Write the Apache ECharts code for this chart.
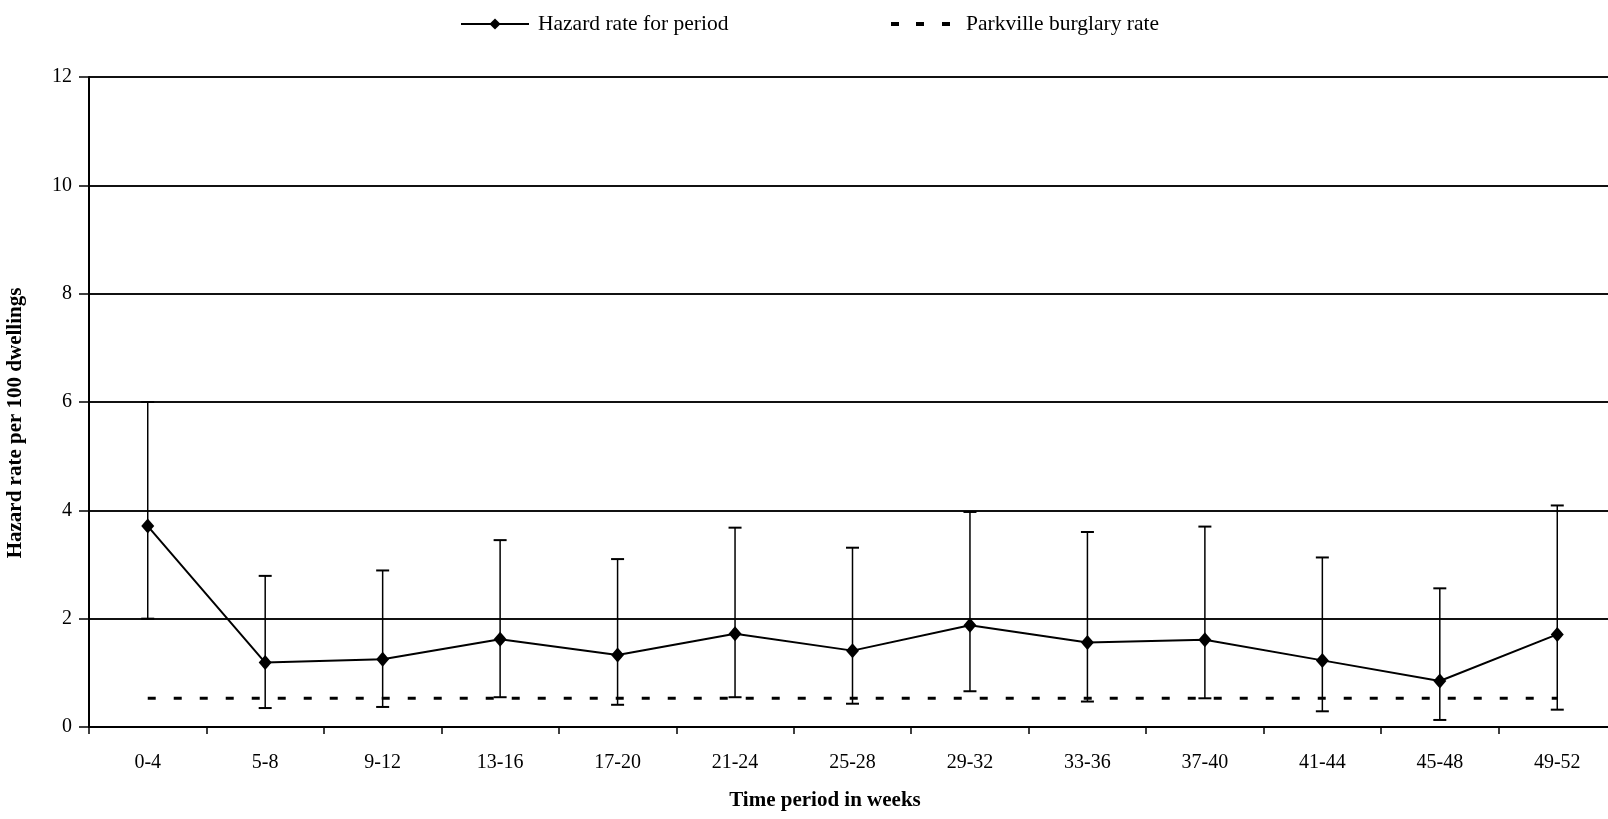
<!DOCTYPE html>
<html>
<head>
<meta charset="utf-8">
<script src="https://cdn.jsdelivr.net/npm/echarts@6/dist/echarts.min.js"></script>
<style>
html,body{margin:0;padding:0;background:#fff;}
#chart{width:1608px;height:819px;}
</style>
</head>
<body>
<div id="chart"></div>
<script>
const categories = ['0-4','5-8','9-12','13-16','17-20','21-24','25-28','29-32','33-36','37-40','41-44','45-48','49-52'];
const hazard    = [3.71, 1.19, 1.25, 1.62, 1.33, 1.72, 1.41, 1.88, 1.56, 1.61, 1.23, 0.85, 1.71];
const upperCI   = [6.00, 2.79, 2.89, 3.45, 3.10, 3.68, 3.31, 3.97, 3.60, 3.70, 3.13, 2.56, 4.09];
const lowerCI   = [2.00, 0.35, 0.37, 0.55, 0.41, 0.55, 0.43, 0.66, 0.47, 0.53, 0.29, 0.13, 0.32];
const parkville = [0.53, 0.53, 0.53, 0.53, 0.53, 0.53, 0.53, 0.53, 0.53, 0.53, 0.53, 0.53, 0.53];
const yMin = 0, yMax = 12, yStep = 2;

const FONT = '"Liberation Serif", "Times New Roman", serif';
const chart = echarts.init(document.getElementById('chart'));

const errData = categories.map((c, i) => [i, upperCI[i], lowerCI[i]]);

chart.setOption({
  animation: false,
  backgroundColor: '#fff',
  textStyle: { fontFamily: FONT, color: '#000' },
  legend: [
    {
      data: ['Hazard rate for period'],
      left: 460, top: 13, padding: 0,
      itemWidth: 68, itemHeight: 14,
      textStyle: { fontFamily: FONT, fontSize: 21.5, color: '#000', padding: [0, 0, 0, 4] }
    },
    {
      data: [{ name: 'Parkville burglary rate', icon: 'path://M0,0h8v4h-8z M25,0h8v4h-8z M51,0h8v4h-8z' }],
      left: 891, top: 13, padding: 0,
      itemWidth: 59, itemHeight: 4,
      textStyle: { fontFamily: FONT, fontSize: 21.5, color: '#000', padding: [0, 0, 0, 11] }
    }
  ],
  grid: { left: 89, top: 77, width: 1527, height: 650, containLabel: false, outerBoundsMode: 'none' },
  xAxis: {
    type: 'category',
    data: categories,
    boundaryGap: true,
    name: 'Time period in weeks',
    nameLocation: 'middle',
    nameGap: 63,
    nameTextStyle: { fontFamily: FONT, fontSize: 21, fontWeight: 'bold', color: '#000', padding: [0, 55, 0, 0] },
    axisLine: { show: true, lineStyle: { color: '#000', width: 2 } },
    axisTick: { show: true, length: 7, alignWithLabel: false, lineStyle: { color: '#000', width: 1.5 } },
    axisLabel: { fontFamily: FONT, fontSize: 20, color: '#000', margin: 26, interval: 0 },
    splitLine: { show: false }
  },
  yAxis: {
    type: 'value',
    min: yMin, max: yMax, interval: yStep,
    name: 'Hazard rate per 100 dwellings',
    nameLocation: 'middle',
    nameGap: 63,
    nameTextStyle: { fontFamily: FONT, fontSize: 21, fontWeight: 'bold', color: '#000', padding: [0, 42, 0, 0] },
    axisLine: { show: true, lineStyle: { color: '#000', width: 2 } },
    axisTick: { show: true, length: 10, lineStyle: { color: '#000', width: 1.5 } },
    axisLabel: { fontFamily: FONT, fontSize: 20, color: '#000', margin: 17 },
    splitLine: { show: true, lineStyle: { color: '#111', width: 1.8 } }
  },
  series: [
    {
      name: 'Error',
      type: 'custom',
      data: errData,
      encode: { x: 0, y: [1, 2] },
      z: 3,
      renderItem: function (params, api) {
        const x = api.value(0);
        const hi = api.coord([x, api.value(1)]);
        const lo = api.coord([x, api.value(2)]);
        const half = 6.5;
        const st = { stroke: '#000', lineWidth: 1.5 };
        return {
          type: 'group',
          children: [
            { type: 'line', shape: { x1: hi[0], y1: hi[1], x2: lo[0], y2: lo[1] }, style: st },
            { type: 'line', shape: { x1: hi[0] - half, y1: hi[1], x2: hi[0] + half, y2: hi[1] }, style: { stroke: '#000', lineWidth: 2 } },
            { type: 'line', shape: { x1: lo[0] - half, y1: lo[1], x2: lo[0] + half, y2: lo[1] }, style: { stroke: '#000', lineWidth: 2 } }
          ]
        };
      }
    },
    {
      name: 'Parkville burglary rate',
      type: 'line',
      data: parkville,
      symbol: 'none',
      z: 4,
      itemStyle: { color: '#000' },
      lineStyle: { color: '#000', width: 3, type: [8, 18] }
    },
    {
      name: 'Hazard rate for period',
      type: 'line',
      data: hazard,
      symbol: 'diamond',
      symbolSize: [13, 15],
      z: 5,
      itemStyle: { color: '#000' },
      lineStyle: { color: '#000', width: 2 }
    }
  ]
});
</script>
</body>
</html>
